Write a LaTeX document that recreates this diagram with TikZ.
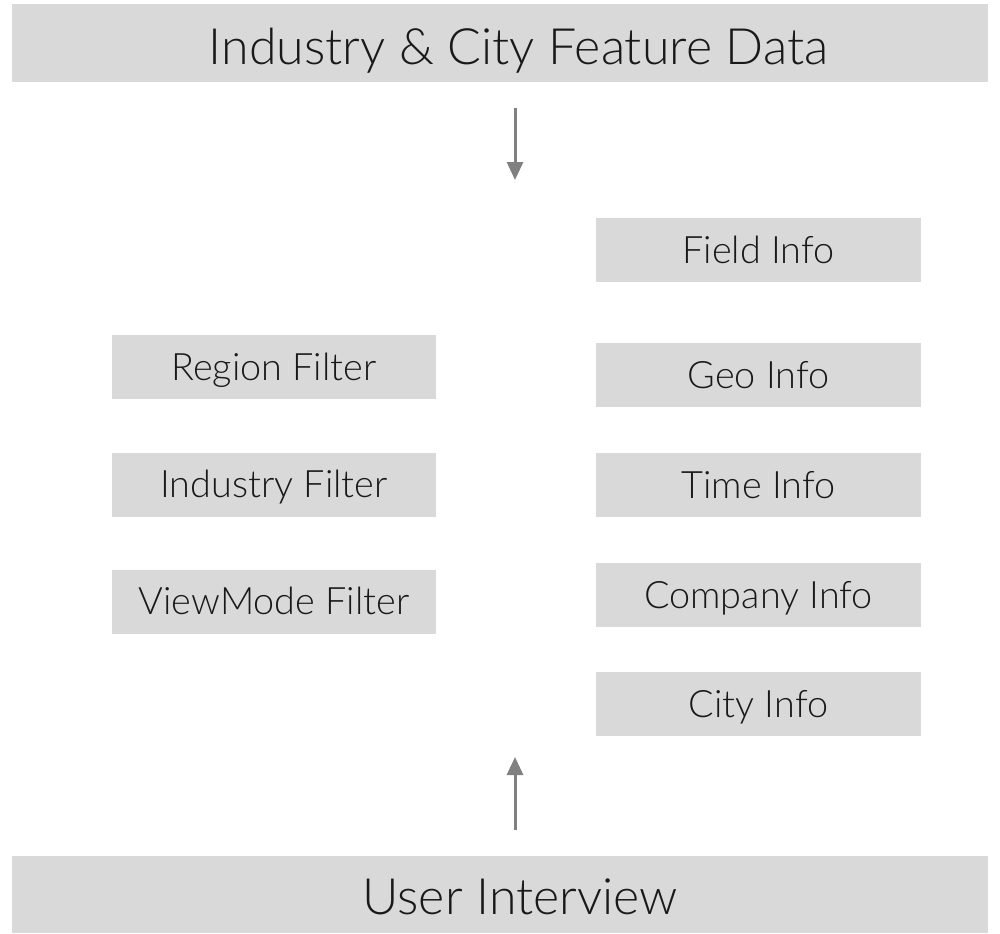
\documentclass[tikz,border=0pt]{standalone}
\usepackage{fontspec}
\IfFontExistsTF{Lato Light}{\setmainfont{Lato Light}}{\setmainfont{Lato}}
\usetikzlibrary{positioning,arrows.meta}
\definecolor{boxgray}{HTML}{D9D9D9}
\definecolor{arrowgray}{HTML}{808080}

\begin{document}
\begin{tikzpicture}[x=0.02cm,y=-0.02cm,
                    every node/.style={align=center,text=black!90,inner sep=0pt},
                    banner/.style={fill=boxgray,minimum width=19.52cm,font=\fontsize{28.5}{34}\selectfont},
                    infobox/.style={fill=boxgray,minimum width=6.5cm,minimum height=1.28cm,
                                    text height=16pt,text depth=1.2pt,
                                    font=\fontsize{21.5}{26}\selectfont},
                    flow/.style={-{Triangle[length=0.36cm,width=0.32cm]},draw=arrowgray,line width=0.06cm}]
  \useasboundingbox (0,0) rectangle (1000,933);

  % top and bottom banners
  \node[banner,minimum height=1.56cm,text height=27pt,text depth=2pt] (data) at (500,43)
    {\hspace*{0.74cm}Industry \& City Feature Data};
  \node[banner,minimum height=1.54cm,text height=24pt,text depth=1.8pt] (user) at (500,894.5)
    {\hspace*{0.8cm}User Interview};

  % filters
  \node[infobox] (region) at (274,367) {Region Filter};
  \node[infobox] (industry) at (274,484.5) {Industry Filter};
  \node[infobox] (viewmode) at (274,601.5) {ViewMode Filter};

  % info
  \node[infobox] (field) at (758.5,250) {Field Info};
  \node[infobox] (geo) at (758.5,375) {Geo Info};
  \node[infobox] (time) at (758.5,485) {Time Info};
  \node[infobox] (company) at (758.5,595) {Company Info};
  \node[infobox] (city) at (758.5,704) {City Info};

  % arrows
  \coordinate (downtail) at (515,108);
  \coordinate (downtip) at (515,180);
  \coordinate (uptail) at (515,830);
  \coordinate (uptip) at (515,757);
  \draw[flow] (downtail) -- (downtip);
  \draw[flow] (uptail) -- (uptip);
\end{tikzpicture}
\end{document}
